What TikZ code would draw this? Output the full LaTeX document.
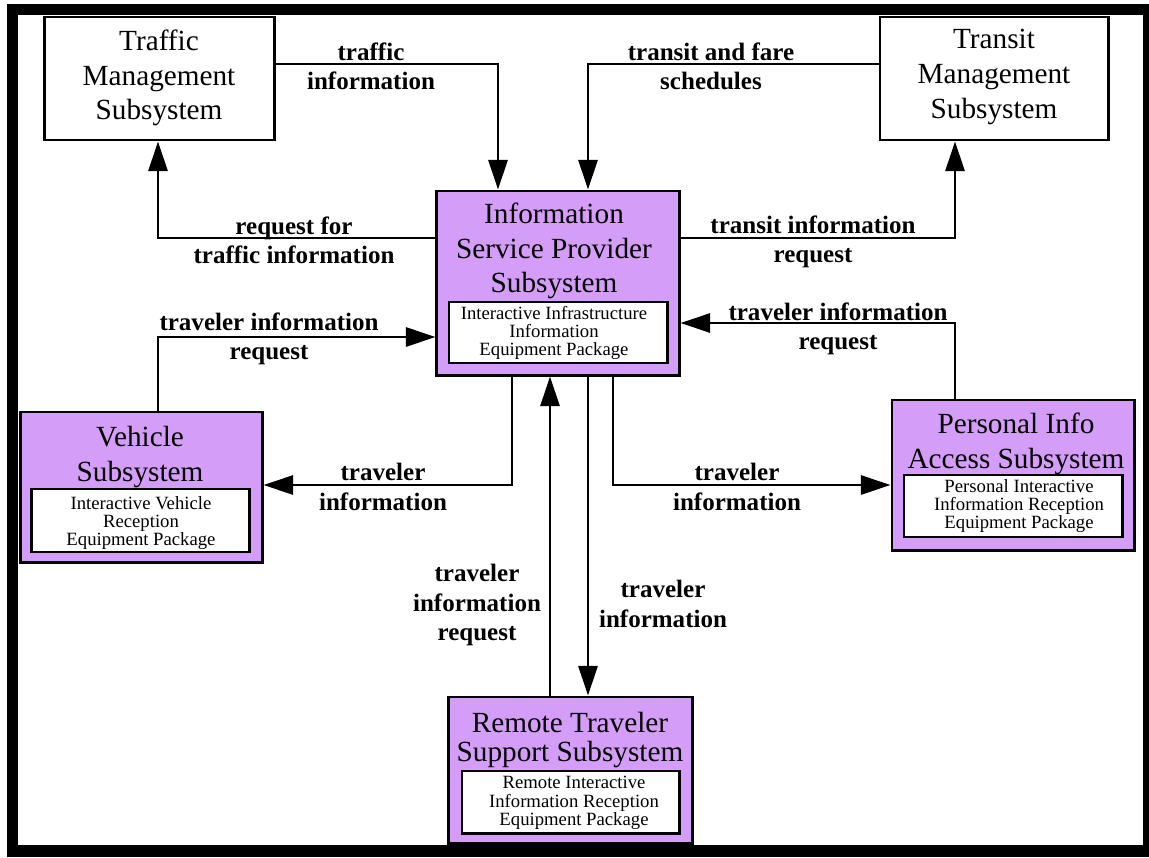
\documentclass[tikz,border=0pt]{standalone}
\usepackage{fontspec}
\setmainfont{Liberation Serif}
\usepackage{xcolor}
\usepackage{tikz}
\usetikzlibrary{calc}
\usetikzlibrary{arrows.meta}
\usetikzlibrary{positioning}

\definecolor{subfill}{RGB}{212,158,248}

\begin{document}
\begin{tikzpicture}[x=0.025cm, y=-0.025cm,
  subbox/.style={rectangle, draw=black, line width=2.1pt, inner sep=0pt},
  pkgbox/.style={rectangle, draw=black, fill=white, line width=2.1pt, inner sep=0pt},
  title/.style={align=center, inner sep=0pt, font=\fontsize{20.8}{24.7}\selectfont},
  pkgtext/.style={align=center, inner sep=0pt, font=\fontsize{13.3}{13}\selectfont},
  flowlabel/.style={align=center, inner sep=0pt, font=\fontsize{17.8}{20.8}\selectfont\bfseries},
  flow/.style={line width=2pt, -{Triangle[length=21pt, width=13.5pt]}}]
\clip (0,0) rectangle (1149,857);

% subsystems
\node [subbox, minimum width=5.725cm, minimum height=3.075cm] (tms) at (159.5,78.5) {};
\node [title] (tmsname) at (159,78) {Traffic\\Management\\Subsystem};
\node [subbox, minimum width=5.7cm, minimum height=3.075cm] (trms) at (994,78.5) {};
\node [title] (trmsname) at (994,77) {Transit\\Management\\Subsystem};

\node [subbox, fill=subfill, minimum width=6.05cm, minimum height=4.6cm] (isp) at (558,283) {};
\node [title] (ispname) at (554,251) {Information\\Service Provider\\Subsystem};
\node [pkgbox, minimum width=5.45cm, minimum height=1.525cm] (isppkg) at (558,332.5) {};
\node [pkgtext] (isppkgname) at (554,333) {Interactive Infrastructure\\Information\\Equipment Package};

\node [subbox, fill=subfill, minimum width=6.025cm, minimum height=3.75cm] (vs) at (141.5,487) {};
\node [title] (vsname) at (140,457) {Vehicle\\Subsystem};
\node [pkgbox, minimum width=5.425cm, minimum height=1.575cm] (vspkg) at (140.5,520.5) {};
\node [pkgtext] (vspkgname) at (141,523) {Interactive Vehicle\\Reception\\Equipment Package};

\node [subbox, fill=subfill, minimum width=6.05cm, minimum height=3.75cm] (pias) at (1013,475) {};
\node [title] (piasname) at (1016,444) {Personal Info\\Access Subsystem};
\node [pkgbox, minimum width=5.45cm, minimum height=1.55cm] (piaspkg) at (1013,506) {};
\node [pkgtext] (piaspkgname) at (1019,506) {Personal Interactive\\Information Reception\\Equipment Package};

\node [subbox, fill=subfill, minimum width=6.075cm, minimum height=3.65cm] (rtss) at (570.5,770) {};
\node [title, font=\fontsize{20.8}{20.6}\selectfont] (rtssname) at (570,740) {Remote Traveler\\Support Subsystem};
\node [pkgbox, minimum width=5.425cm, minimum height=1.55cm] (rtsspkg) at (570.5,802) {};
\node [pkgtext] (rtsspkgname) at (574,803) {Remote Interactive\\Information Reception\\Equipment Package};

% bends
\coordinate (c1) at (498,64);
\coordinate (c2) at (588,64);
\coordinate (c3) at (158,238);
\coordinate (c4) at (955,238);
\coordinate (c5) at (158,337);
\coordinate (c6) at (955,323);
\coordinate (c7) at (512,485);
\coordinate (c8) at (613,485);
\coordinate (c9) at (550,600);
\coordinate (c10) at (588,600);

% flows
\draw [flow] (tms.east |- c1) -- (c1) -- (c1 |- isp.north);
\draw [flow] (trms.west |- c2) -- (c2) -- (c2 |- isp.north);
\draw [flow] (isp.west |- c3) -- (c3) -- (c3 |- tms.south);
\draw [flow] (isp.east |- c4) -- (c4) -- (c4 |- trms.south);
\draw [flow] (c5 |- vs.north) -- (c5) -- (c5 -| isp.west);
\draw [flow] (c6 |- pias.north) -- (c6) -- (c6 -| isp.east);
\draw [flow] (c7 |- isp.south) -- (c7) -- (c7 -| vs.east);
\draw [flow] (c8 |- isp.south) -- (c8) -- (c8 -| pias.west);
\draw [flow] (c9 |- rtss.north) to (c9 |- isp.south);
\draw [flow] (c10 |- isp.south) to (c10 |- rtss.north);

% flow labels
\node [flowlabel] (l1) at (371,66.5) {traffic\\information};
\node [flowlabel] (l2) at (711,66.5) {transit and fare\\schedules};
\node [flowlabel] (l3) at (294,240) {request for\\traffic information};
\node [flowlabel] (l4) at (813,242) {transit information\\request};
\node [flowlabel] (l5) at (269,339) {traveler information\\request};
\node [flowlabel] (l6) at (838,329) {traveler information\\request};
\node [flowlabel] (l7) at (383,487) {traveler\\information};
\node [flowlabel] (l8) at (737,487) {traveler\\information};
\node [flowlabel] (l9) at (477,605) {traveler\\information\\request};
\node [flowlabel] (l10) at (663,604) {traveler\\information};

% frame
\draw [line width=8.5pt] (12.5,9.5) rectangle (1149,851);
\end{tikzpicture}
\end{document}
